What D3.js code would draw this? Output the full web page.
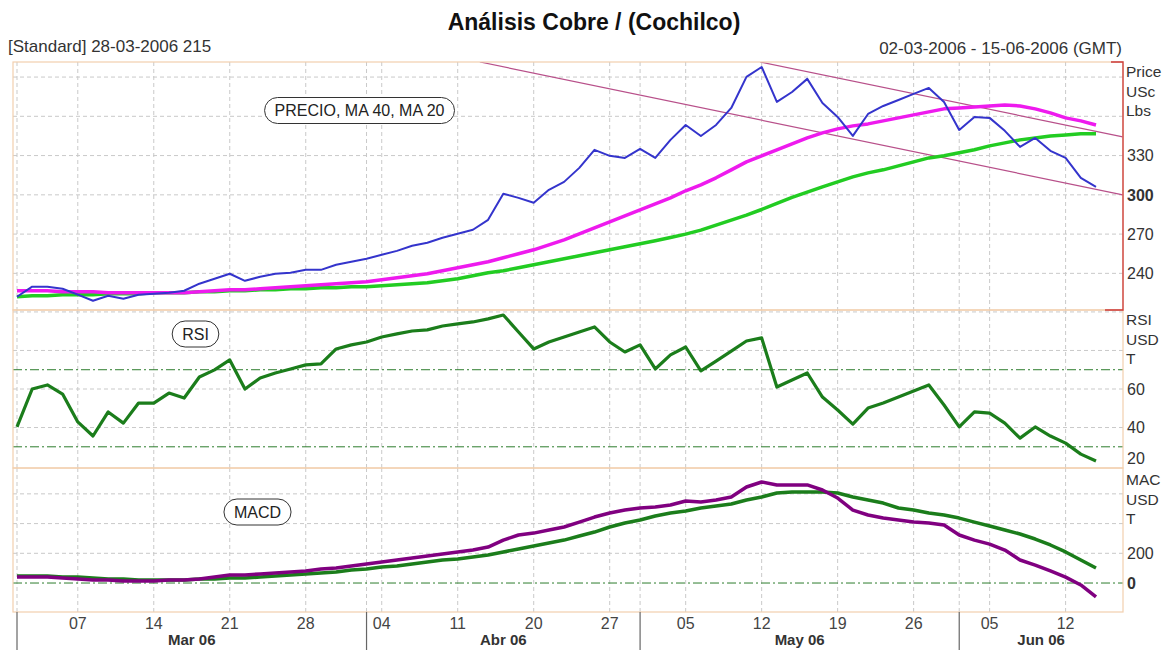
<!DOCTYPE html>
<html><head><meta charset="utf-8">
<script src="https://cdn.jsdelivr.net/npm/d3@7"></script>
<style>body{margin:0;background:#fff} svg{display:block} text{font-family:Arial,"Liberation Sans",sans-serif}</style>
</head><body><svg id="c" width="1162" height="650"></svg>
<script>
// ---------- DATA ----------
const dates = ["01-03","02-03","03-03","06-03","07-03","08-03","09-03","10-03","13-03","14-03","15-03","16-03","17-03","20-03","21-03","22-03","23-03","24-03","27-03","28-03","29-03","30-03","31-03",
"03-04","04-04","05-04","06-04","07-04","10-04","11-04","12-04","13-04","18-04","19-04","20-04","21-04","24-04","25-04","26-04","27-04","28-04",
"02-05","03-05","04-05","05-05","08-05","09-05","10-05","11-05","12-05","15-05","16-05","17-05","18-05","19-05","22-05","23-05","24-05","25-05","26-05","30-05","31-05",
"01-06","02-06","05-06","06-06","07-06","08-06","09-06","12-06","13-06","14-06"];
const price = [222.1,229.8,229.8,228.2,223.7,219.1,222.9,220.6,223.7,224.4,225.2,226.7,232.1,235.9,239.7,234.3,237.4,239.7,240.5,242.7,242.7,246.6,248.9,
251.1,254.2,257.2,261.1,263.4,267.2,270.2,273.3,280.9,300.8,297.7,293.9,303.8,309.9,320.6,334.4,329.8,328.2,
335.1,328.2,342.0,353.4,345.0,353.4,366.4,390.1,397.7,371.0,378.6,388.6,370.2,359.5,345.0,361.8,367.9,372.5,377.1,381.7,371.0,
349.6,359.5,358.8,348.9,336.6,343.5,333.6,328.2,313.0,306.1];
const ma20 = [226.7,226.7,226.7,226.0,226.0,226.0,225.2,225.2,225.2,225.2,225.2,225.2,226.0,226.7,227.5,227.5,228.2,229.0,229.8,230.5,231.3,232.1,232.8,
233.6,235.1,236.6,238.2,239.7,242.0,244.3,246.6,248.9,251.9,255.0,258.0,261.8,265.6,270.2,274.8,279.4,284.0,
288.5,293.1,297.7,303.1,307.6,313.0,319.1,325.2,329.8,334.4,338.9,343.5,347.3,350.4,352.7,354.2,356.5,358.8,361.1,363.4,365.7,
366.4,367.2,367.9,368.7,367.9,365.7,362.6,358.8,356.5,353.4];
const ma40 = [222.1,222.9,222.9,223.7,223.7,223.7,224.4,224.4,224.4,225.2,225.2,225.2,226.0,226.0,226.7,226.7,227.5,227.5,228.2,228.2,229.0,229.0,229.8,
229.8,230.5,231.3,232.1,232.8,234.3,235.9,238.2,240.5,242.0,244.3,246.6,248.9,251.1,253.4,255.7,258.0,260.3,
262.6,264.9,267.4,270.0,273.0,276.9,280.7,284.5,288.8,293.4,298.0,302.0,306.1,309.9,313.7,316.8,319.1,322.1,325.2,328.2,329.8,
332.1,334.4,337.4,339.7,342.0,343.5,345.0,345.8,346.6,346.6];
const rsi = [40.3,60.0,62.1,57.4,42.9,35.6,48.1,42.3,52.7,52.7,57.9,55.3,66.2,69.9,75.1,60.0,65.7,68.3,70.4,72.5,73.0,80.8,82.9,
84.4,87.0,88.6,90.1,90.7,92.7,93.8,94.8,96.4,98.4,89.6,80.8,84.4,87.0,89.6,92.2,84.4,79.2,
82.9,70.4,77.7,81.8,69.4,74.5,79.7,84.9,86.5,61.0,64.7,68.3,55.8,49.1,41.8,50.1,52.7,55.8,59.0,62.1,51.7,
40.3,48.1,47.5,42.3,34.5,40.3,35.6,31.9,26.2,22.6];
const macd = [40,40,40,34,27,20,20,13,13,13,20,20,27,40,54,54,61,67,74,81,94,101,114,
128,141,155,168,182,195,209,222,242,289,323,336,357,377,410,444,471,491,
505,511,525,552,545,559,579,646,680,660,660,660,626,572,491,458,437,424,411,404,390,
323,289,262,222,155,121,81,40,-13,-94];
const signal = [47,47,47,40,40,34,27,27,20,20,20,20,27,27,34,34,40,47,54,61,67,74,88,
94,108,114,128,141,155,162,175,188,209,229,249,269,289,316,343,377,404,
424,451,471,485,505,518,532,559,579,606,612,612,612,606,579,559,538,505,491,471,458,
437,410,384,357,330,296,256,209,155,101];
const trendLines = [
  [{i:30.46, v:401.5},{i:72.76, v:300.0}],
  [{i:48.9,  v:401.5},{i:72.76, v:344.3}]
];
const priceGrid = [240,270,300,330,360,390];
const priceLabels = [240,270,300,330];
const rsiGrid = [40,60,80,100];
const rsiLabels = [20,40,60];
const rsiLevels = [30,70];
const macdGrid = [200,400,600];
const macdLabels = [0,200];
const tickIdx = [4,9,14,19,24,29,34,39,44,49,54,59,64,69];
const monthNames = {"03":"Mar 06","04":"Abr 06","05":"May 06","06":"Jun 06"};

// ---------- LAYOUT ----------
const svg = d3.select("#c");
const L = 13, R = 1123;
const x = d3.scaleLinear().domain([0, dates.length-1]).range([17, 1096]);
const panels = {
  price: {top:62, bottom:310, y: d3.scaleLinear().domain([212,401.5]).range([310,62])},
  rsi:   {top:310, bottom:468, y: d3.scaleLinear().domain([19,101]).range([468,310])},
  macd:  {top:468, bottom:612, y: d3.scaleLinear().domain([-195,774]).range([612,468])}
};
const gridCol = "#c9c9c9", borderCol = "#f2cfae", dashDot = "#2d7d2d";

const monthStarts = [];
dates.forEach((d,i)=>{ if(i===0 || d.slice(3)!==dates[i-1].slice(3)) monthStarts.push(i); });
const vGrid = tickIdx.concat(monthStarts);

const defs = svg.append("defs");
Object.entries(panels).forEach(([k,p])=>{
  defs.append("clipPath").attr("id","clip-"+k).append("rect")
    .attr("x",L).attr("y",p.top).attr("width",R-L).attr("height",p.bottom-p.top);
});

function panelGrid(p, hVals){
  const g = svg.append("g");
  g.selectAll(".v").data(vGrid).join("line")
    .attr("x1",d=>x(d)).attr("x2",d=>x(d)).attr("y1",p.top).attr("y2",p.bottom)
    .attr("stroke",gridCol).attr("stroke-dasharray","4,3");
  g.selectAll(".h").data(hVals).join("line")
    .attr("x1",L).attr("x2",R).attr("y1",d=>p.y(d)).attr("y2",d=>p.y(d))
    .attr("stroke",gridCol).attr("stroke-dasharray","4,3");
}
function levelLines(p, vals){
  svg.append("g").selectAll("line").data(vals).join("line")
    .attr("x1",L).attr("x2",R).attr("y1",d=>p.y(d)).attr("y2",d=>p.y(d))
    .attr("stroke",dashDot).attr("stroke-width",1).attr("stroke-dasharray","9,3,2,3");
}
function series(key, p, vals, color, w){
  const line = d3.line().x((d,i)=>x(i)).y(d=>p.y(d));
  svg.append("path").datum(vals).attr("d",line).attr("fill","none")
    .attr("stroke",color).attr("stroke-width",w).attr("stroke-linejoin","round")
    .attr("clip-path","url(#clip-"+key+")");
}
function rightLabels(p, vals, bold){
  svg.append("g").selectAll("text").data(vals).join("text")
    .attr("x",R+4).attr("y",d=>Math.min(p.y(d), p.bottom-10)).attr("dy","0.36em")
    .attr("font-size",16).attr("fill","#333")
    .attr("font-weight",d=>d===bold?"bold":"normal").text(d=>d);
}
function unitLabels(lines, y0){
  svg.append("g").selectAll("text").data(lines).join("text")
    .attr("x",R+3).attr("y",(d,i)=>y0+i*19.5).attr("font-size",15.5).attr("fill","#333").text(d=>d);
}
function boxLabel(txt, cx, cy){
  const g = svg.append("g");
  const t = g.append("text").attr("x",cx).attr("y",cy).attr("dy","0.36em")
    .attr("text-anchor","middle").attr("font-size",16).attr("fill","#222").text(txt);
  const b = t.node().getBBox();
  g.insert("rect","text").attr("x",b.x-10).attr("y",cy-13).attr("width",b.width+20).attr("height",26)
    .attr("rx",13).attr("fill","#fff").attr("stroke","#333").attr("stroke-width",1);
}

// ---------- PRICE PANEL ----------
const pp = panels.price;
panelGrid(pp, priceGrid);
const tl = d3.line().x(d=>x(d.i)).y(d=>pp.y(d.v));
trendLines.forEach(t=>svg.append("path").attr("d",tl(t)).attr("fill","none")
  .attr("stroke","#b8508a").attr("stroke-width",1.2).attr("clip-path","url(#clip-price)"));
series("price", pp, ma40, "#22cc22", 3.5);
series("price", pp, ma20, "#ee1aee", 3.5);
series("price", pp, price, "#3434cc", 2);

// ---------- RSI PANEL ----------
const pr = panels.rsi;
panelGrid(pr, rsiGrid);
levelLines(pr, rsiLevels);
series("rsi", pr, rsi, "#1b7d1b", 3.2);

// ---------- MACD PANEL ----------
const pm = panels.macd;
panelGrid(pm, macdGrid);
levelLines(pm, [0]);
series("macd", pm, signal, "#1b7d1b", 3.5);
series("macd", pm, macd, "#800080", 3.5);

// ---------- BORDERS ----------
Object.values(panels).forEach(p=>{
  svg.append("rect").attr("x",L).attr("y",p.top).attr("width",R-L).attr("height",p.bottom-p.top)
    .attr("fill","none").attr("stroke",borderCol).attr("stroke-width",1.2);
});
svg.append("path").attr("d",`M${R-12},${pp.top}H${R}V${pp.bottom}H${R-18}`)
  .attr("fill","none").attr("stroke","#cc3a3a").attr("stroke-width",1.3);

// ---------- AXIS LABELS ----------
rightLabels(pp, priceLabels, 300);
unitLabels(["Price","USc","Lbs"], 77);
rightLabels(pr, rsiLabels, null);
unitLabels(["RSI","USD","T"], 325);
rightLabels(pm, macdLabels, 0);
unitLabels(["MAC","USD","T"], 485);

const ax = svg.append("g");
ax.selectAll(".tk").data(tickIdx).join("text")
  .attr("x",d=>x(d)).attr("y",629).attr("text-anchor","middle").attr("font-size",16).attr("fill","#444")
  .text(d=>dates[d].slice(0,2));
ax.selectAll(".ms").data(monthStarts).join("line")
  .attr("x1",d=>x(d)).attr("x2",d=>x(d)).attr("y1",612).attr("y2",650)
  .attr("stroke","#666").attr("stroke-width",1.2);
const monthEnds = monthStarts.slice(1).map(i=>x(i)).concat([R]);
ax.selectAll(".mn").data(monthStarts).join("text")
  .attr("x",(d,k)=>(x(d)+monthEnds[k])/2).attr("y",645).attr("text-anchor","middle")
  .attr("font-size",15).attr("font-weight","bold").attr("fill","#333")
  .text(d=>monthNames[dates[d].slice(3)]);

// ---------- TITLES ----------
svg.append("text").attr("x",594).attr("y",30).attr("text-anchor","middle")
  .attr("font-size",23).attr("font-weight","bold").attr("fill","#111").text("Análisis Cobre / (Cochilco)");
svg.append("text").attr("x",8).attr("y",52).attr("font-size",17).attr("fill","#333").text("[Standard] 28-03-2006 215");
svg.append("text").attr("x",R-1).attr("y",54).attr("text-anchor","end").attr("font-size",17).attr("fill","#333")
  .text("02-03-2006 - 15-06-2006 (GMT)");

boxLabel("PRECIO, MA 40, MA 20", 359.5, 110.5);
boxLabel("RSI", 195.5, 334);
boxLabel("MACD", 257.5, 512);
</script></body></html>
